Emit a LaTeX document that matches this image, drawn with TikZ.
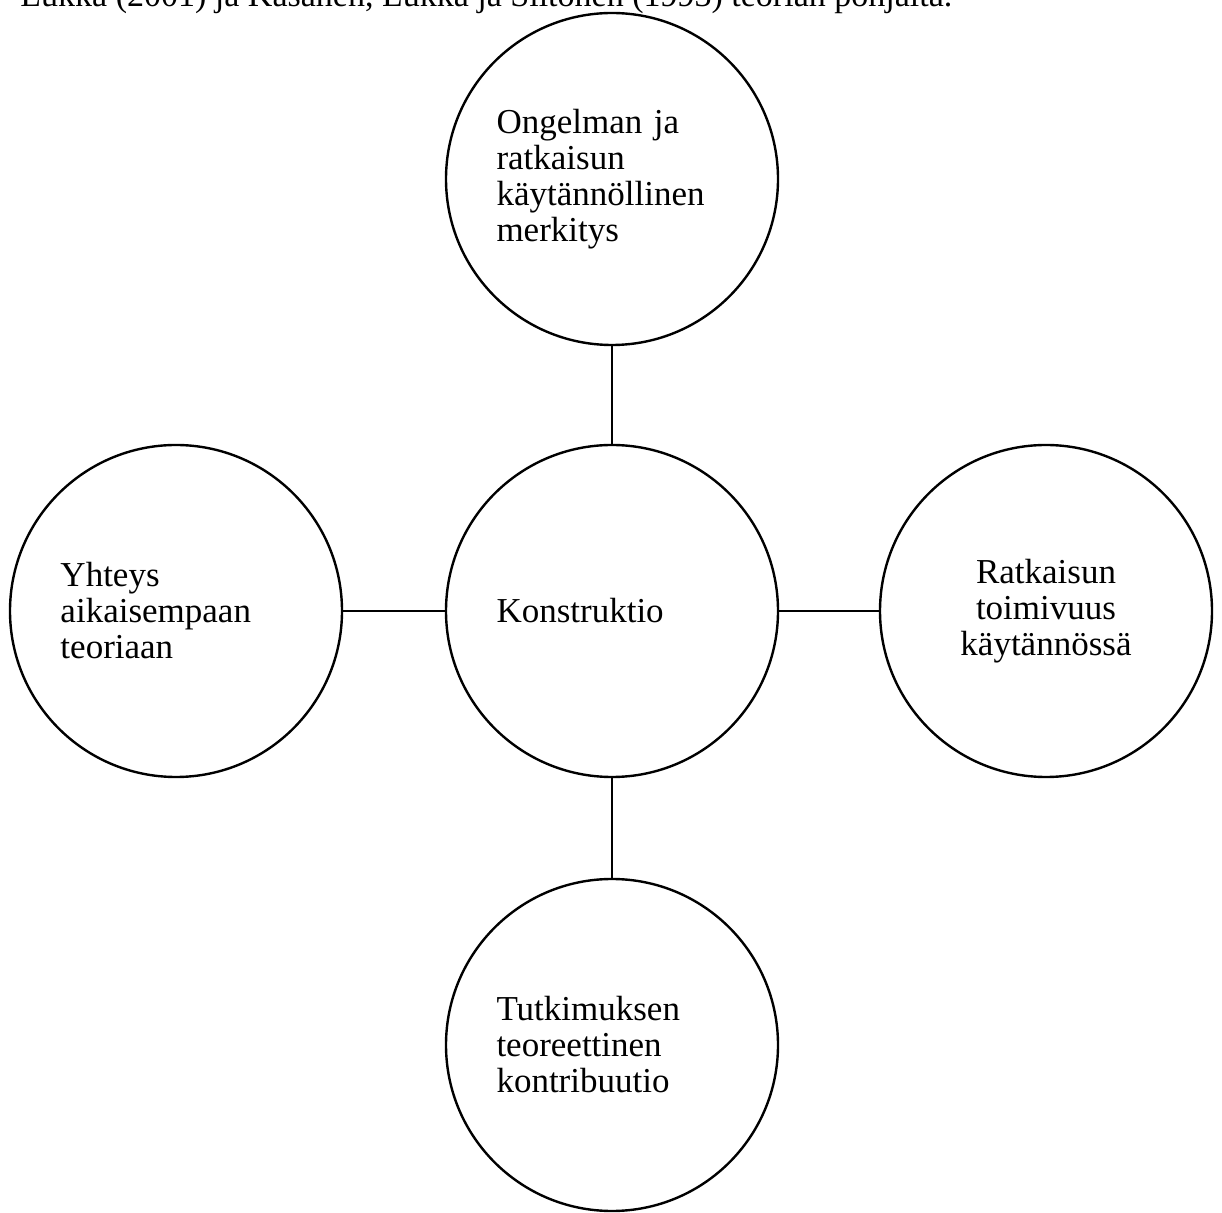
\documentclass[tikz,border=0pt]{standalone}
\usepackage{fontspec}
\setmainfont{Liberation Serif}
\begin{document}
\begin{tikzpicture}[x=0.5pt,y=-0.5pt,
  bubble/.style={draw,circle,line width=1.2pt,minimum size=166pt,inner sep=0pt,
    font=\fontsize{17.5}{18}\selectfont},
  lefttext/.style={text width=115.5pt,align=left},
  centertext/.style={align=center},
  link/.style={line width=1.2pt}]
\clip (0,0) rectangle (1222,1213);
\fill[white] (0,0) rectangle (1222,1213);
\node[anchor=base west,inner sep=0pt,font=\fontsize{17}{18}\selectfont] (cap) at (20,7)
  {Lukka (2001) ja Kasanen, Lukka ja Siitonen (1993) teorian pohjalta.};
\node[bubble,lefttext] (T) at (612,179) {Ongelman ja\\ratkaisun\\käytännöllinen\\merkitys};
\node[bubble,lefttext] (C) at (612,611) {Konstruktio};
\node[bubble,lefttext] (L) at (176,611) {Yhteys\\aikaisempaan\\teoriaan};
\node[bubble,centertext] (R) at (1046,611) {Ratkaisun\\toimivuus\\käytännössä};
\node[bubble,lefttext] (B) at (612,1045) {Tutkimuksen\\teoreettinen\\kontribuutio};
\draw[link] (T) -- (C);
\draw[link] (C) -- (B);
\draw[link] (L) -- (C);
\draw[link] (C) -- (R);
\end{tikzpicture}
\end{document}
